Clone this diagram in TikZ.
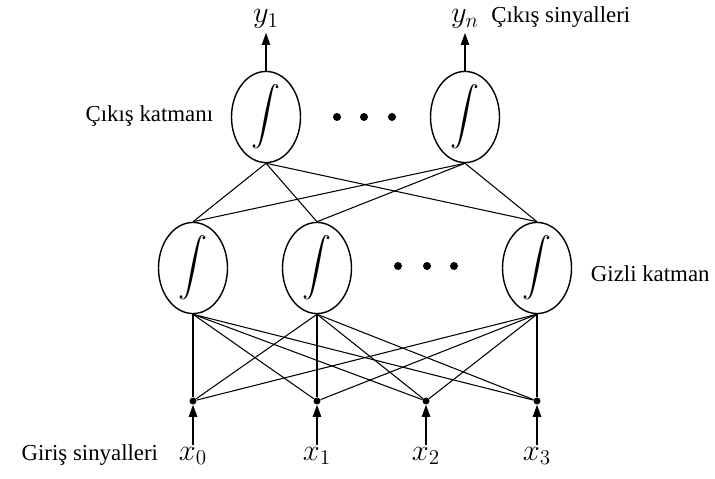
\documentclass[tikz,border=0pt]{standalone}
\usepackage{fontspec}
\setmainfont{Liberation Serif}
\usepackage{graphicx}
\usetikzlibrary{arrows.meta, positioning, shapes.geometric}
\newcommand{\act}{\scalebox{1.65}{$\displaystyle\int$}}

\begin{document}
\begin{tikzpicture}[
    font=\fontsize{13pt}{15pt}\selectfont,
    neuron/.style={ellipse, draw, line width=0.8pt, minimum width=1.38cm,
      minimum height=1.78cm, inner sep=0pt},
    wire/.style={line width=0.6pt},
    sig/.style={line width=0.6pt, -{Triangle[length=2.4mm, width=1.7mm]}},
    junc/.style={circle, fill, inner sep=0pt, minimum size=1.4mm},
    dot/.style={circle, fill, inner sep=0pt, minimum size=1.6mm},
    mlbl/.style={anchor=base, font=\fontsize{17.28pt}{20pt}\selectfont}]
  \useasboundingbox (0,0) rectangle (14.3,9.56);
  % output layer
  \node[neuron] (o1) at (5.32,7.22) {\act};
  \node[neuron] (o2) at (9.30,7.22) {\act};
  \foreach \x in {6.74, 7.28, 7.84}
    \node[dot] at (\x,7.22) {};
  % hidden layer
  \foreach \h/\x in {1/3.86, 2/6.34, 3/10.74}
    \node[neuron] (h\h) at (\x,4.20) {\act};
  \foreach \x in {7.96, 8.54, 9.08}
    \node[dot] at (\x,4.24) {};
  % input junctions and signals
  \foreach \i/\x in {0/3.86, 1/6.34, 2/8.52, 3/10.74} {
    \node[junc] (in\i) at (\x,1.54) {};
    \node[mlbl] (x\i) at (\x,0.36) {$x_{\i}$};
    \coordinate (s\i) at (\x,0.66);
    \draw[sig] (s\i) -- (in\i);
  }
  % outputs
  \node[mlbl] (y1) at (5.32,9.10) {$y_1$};
  \node[mlbl] (yn) at (9.30,9.10) {$y_n$};
  \coordinate (t1) at (5.32,8.90);
  \coordinate (tn) at (9.30,8.90);
  \draw[sig] (o1.north) -- (t1);
  \draw[sig] (o2.north) -- (tn);
  % connections
  \foreach \o in {1,2}
    \foreach \h in {1,2,3}
      \draw[wire] (o\o.south) -- (h\h.north);
  \foreach \h in {1,2,3}
    \foreach \i in {0,...,3}
      \draw[wire] (h\h.south) -- (in\i);
  % layer labels
  \node[left=0.23cm of o1, yshift=0.02cm] {Çıkış katmanı};
  \node[right=0.25cm of h3, yshift=-0.12cm] {Gizli katman};
  \node[base right=0cm of yn] {Çıkış sinyalleri};
  \node[base left=0.17cm of x0] {Giriş sinyalleri};
\end{tikzpicture}
\end{document}
